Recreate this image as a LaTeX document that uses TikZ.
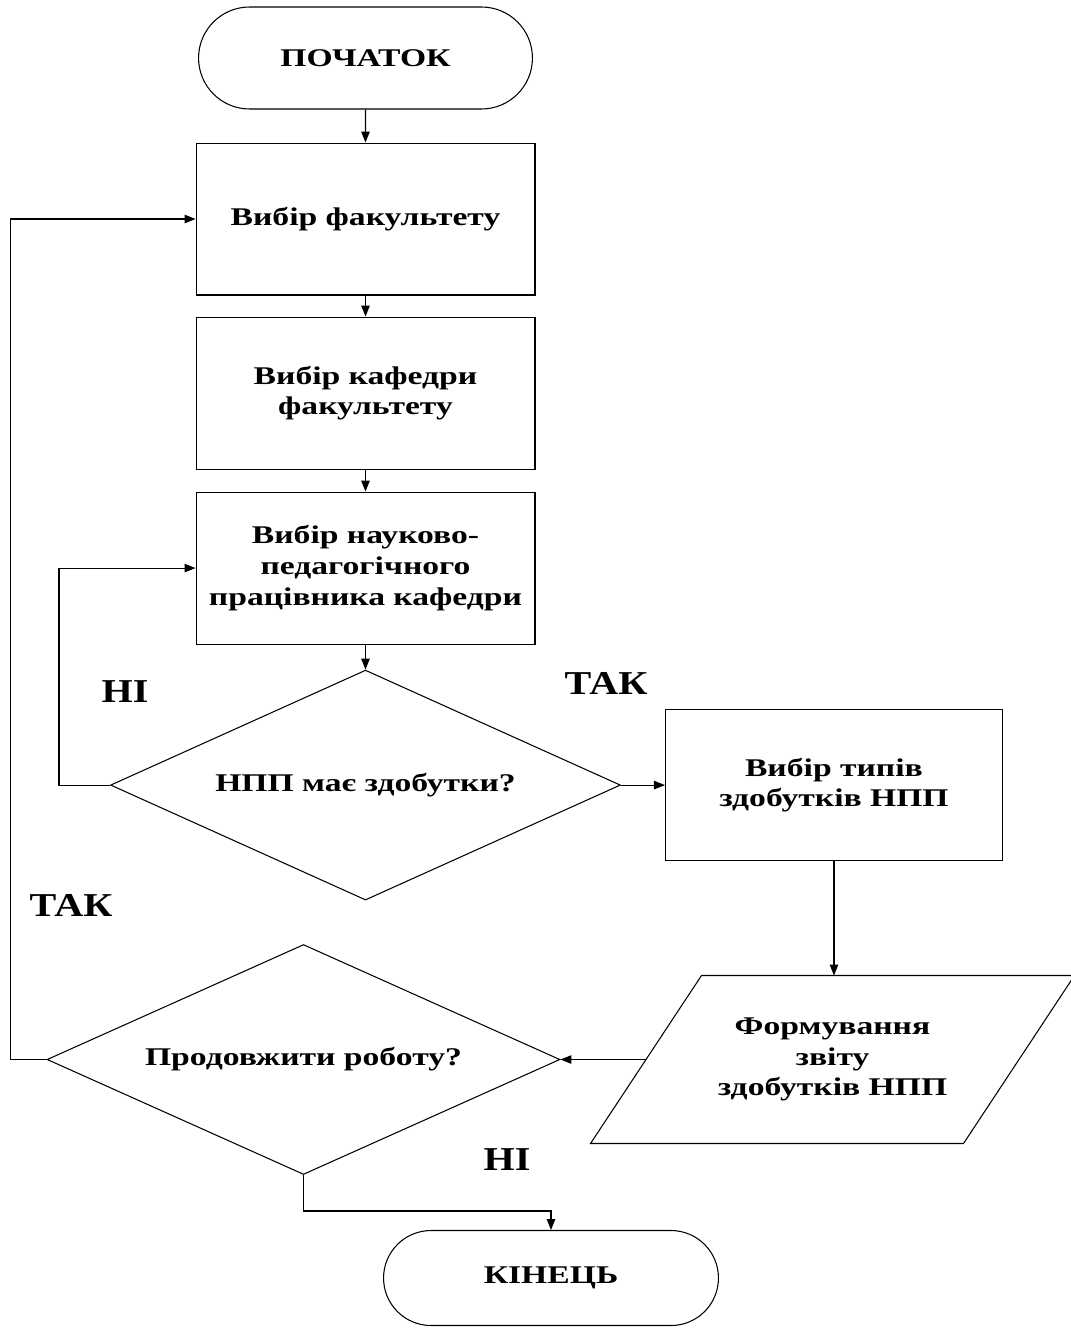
\documentclass[tikz,border=0pt]{standalone}
\usepackage{fontspec}
\setmainfont{Liberation Serif}[FakeStretch=1.32]
\newfontfamily\answerfont{Liberation Serif}[FakeStretch=1.2]
\usetikzlibrary{arrows.meta,positioning,shapes.geometric,shapes.misc}
\tikzset{
  flowbase/.style={
    draw=black,
    line width=0.6pt,
    align=center,
    inner sep=2pt,
    font=\fontsize{14.5}{17.5}\selectfont\bfseries
  },
  termbox/.style={flowbase, rounded rectangle, minimum height=2.04cm},
  procbox/.style={flowbase, rectangle, minimum width=6.78cm, minimum height=3.04cm},
  decbox/.style={flowbase, diamond, aspect=2.5, inner sep=0pt, minimum width=10.2cm, minimum height=4.6cm},
  iobox/.style={flowbase, draw=none, rectangle, minimum width=7.44cm, minimum height=3.34cm},
  outline/.style={draw=black, line width=0.6pt},
  arrow/.style={-{Triangle[length=2.2mm,width=1.7mm]}, line width=0.6pt, draw=black},
  answer/.style={font=\fontsize{19}{22}\selectfont\answerfont\bfseries}
}
\begin{document}
\begin{tikzpicture}[x=0.02cm, y=-0.02cm]
  \useasboundingbox (0,0) rectangle (1071,1328);
  \node[termbox, minimum width=6.82cm] (start) at (365.5,58) {ПОЧАТОК};
  \node[procbox, below=0.66cm of start] (faculty) {Вибір факультету};
  \node[procbox, below=0.42cm of faculty] (chair) {Вибір кафедри\\факультету};
  \node[procbox, below=0.44cm of chair] (staff) {Вибір науково-\\педагогічного\\працівника кафедри};
  \node[decbox, below=0.5cm of staff] (hasach) {НПП має здобутки?};
  \node[procbox, minimum width=6.74cm, minimum height=3.02cm, right=0.88cm of hasach] (achtypes) {Вибір типів\\здобутків НПП};
  \node[iobox] (report) at (832.5,1059.5) {Формування\\звіту\\здобутків НПП};
  \draw[outline] ([xshift=1.11cm]report.north west) -- ([xshift=1.11cm]report.north east)
    -- ([xshift=-1.11cm]report.south east) -- ([xshift=-1.11cm]report.south west) -- cycle;
  \node[decbox, minimum width=10.26cm] (goon) at (303.5,1059.5) {Продовжити роботу?};
  \node[termbox, minimum width=6.84cm, minimum height=1.9cm] (stop) at (551,1278) {КІНЕЦЬ};
  \draw[arrow] (start) -- (faculty);
  \draw[arrow] (faculty) -- (chair);
  \draw[arrow] (chair) -- (staff);
  \draw[arrow] (staff) -- (hasach);
  \draw[arrow] (hasach.west) -- ++(-51,0) |- (staff.west);
  \draw[arrow] (hasach.east) -- (achtypes.west);
  \draw[arrow] (achtypes.south) -- (achtypes.south |- report.north);
  \draw[arrow] (report.west) -- (goon.east);
  \draw[arrow] (goon.west) -- ++(-36,0) |- (faculty.west);
  \draw[arrow] (goon.south) -- ++(0,36) -| (stop.north);
  \node[answer] (no1) at (125,692) {НІ};
  \node[answer] (yes1) at (606,683) {ТАК};
  \node[answer] (yes2) at (71,905) {ТАК};
  \node[answer] (no2) at (507,1160) {НІ};
\end{tikzpicture}
\end{document}
